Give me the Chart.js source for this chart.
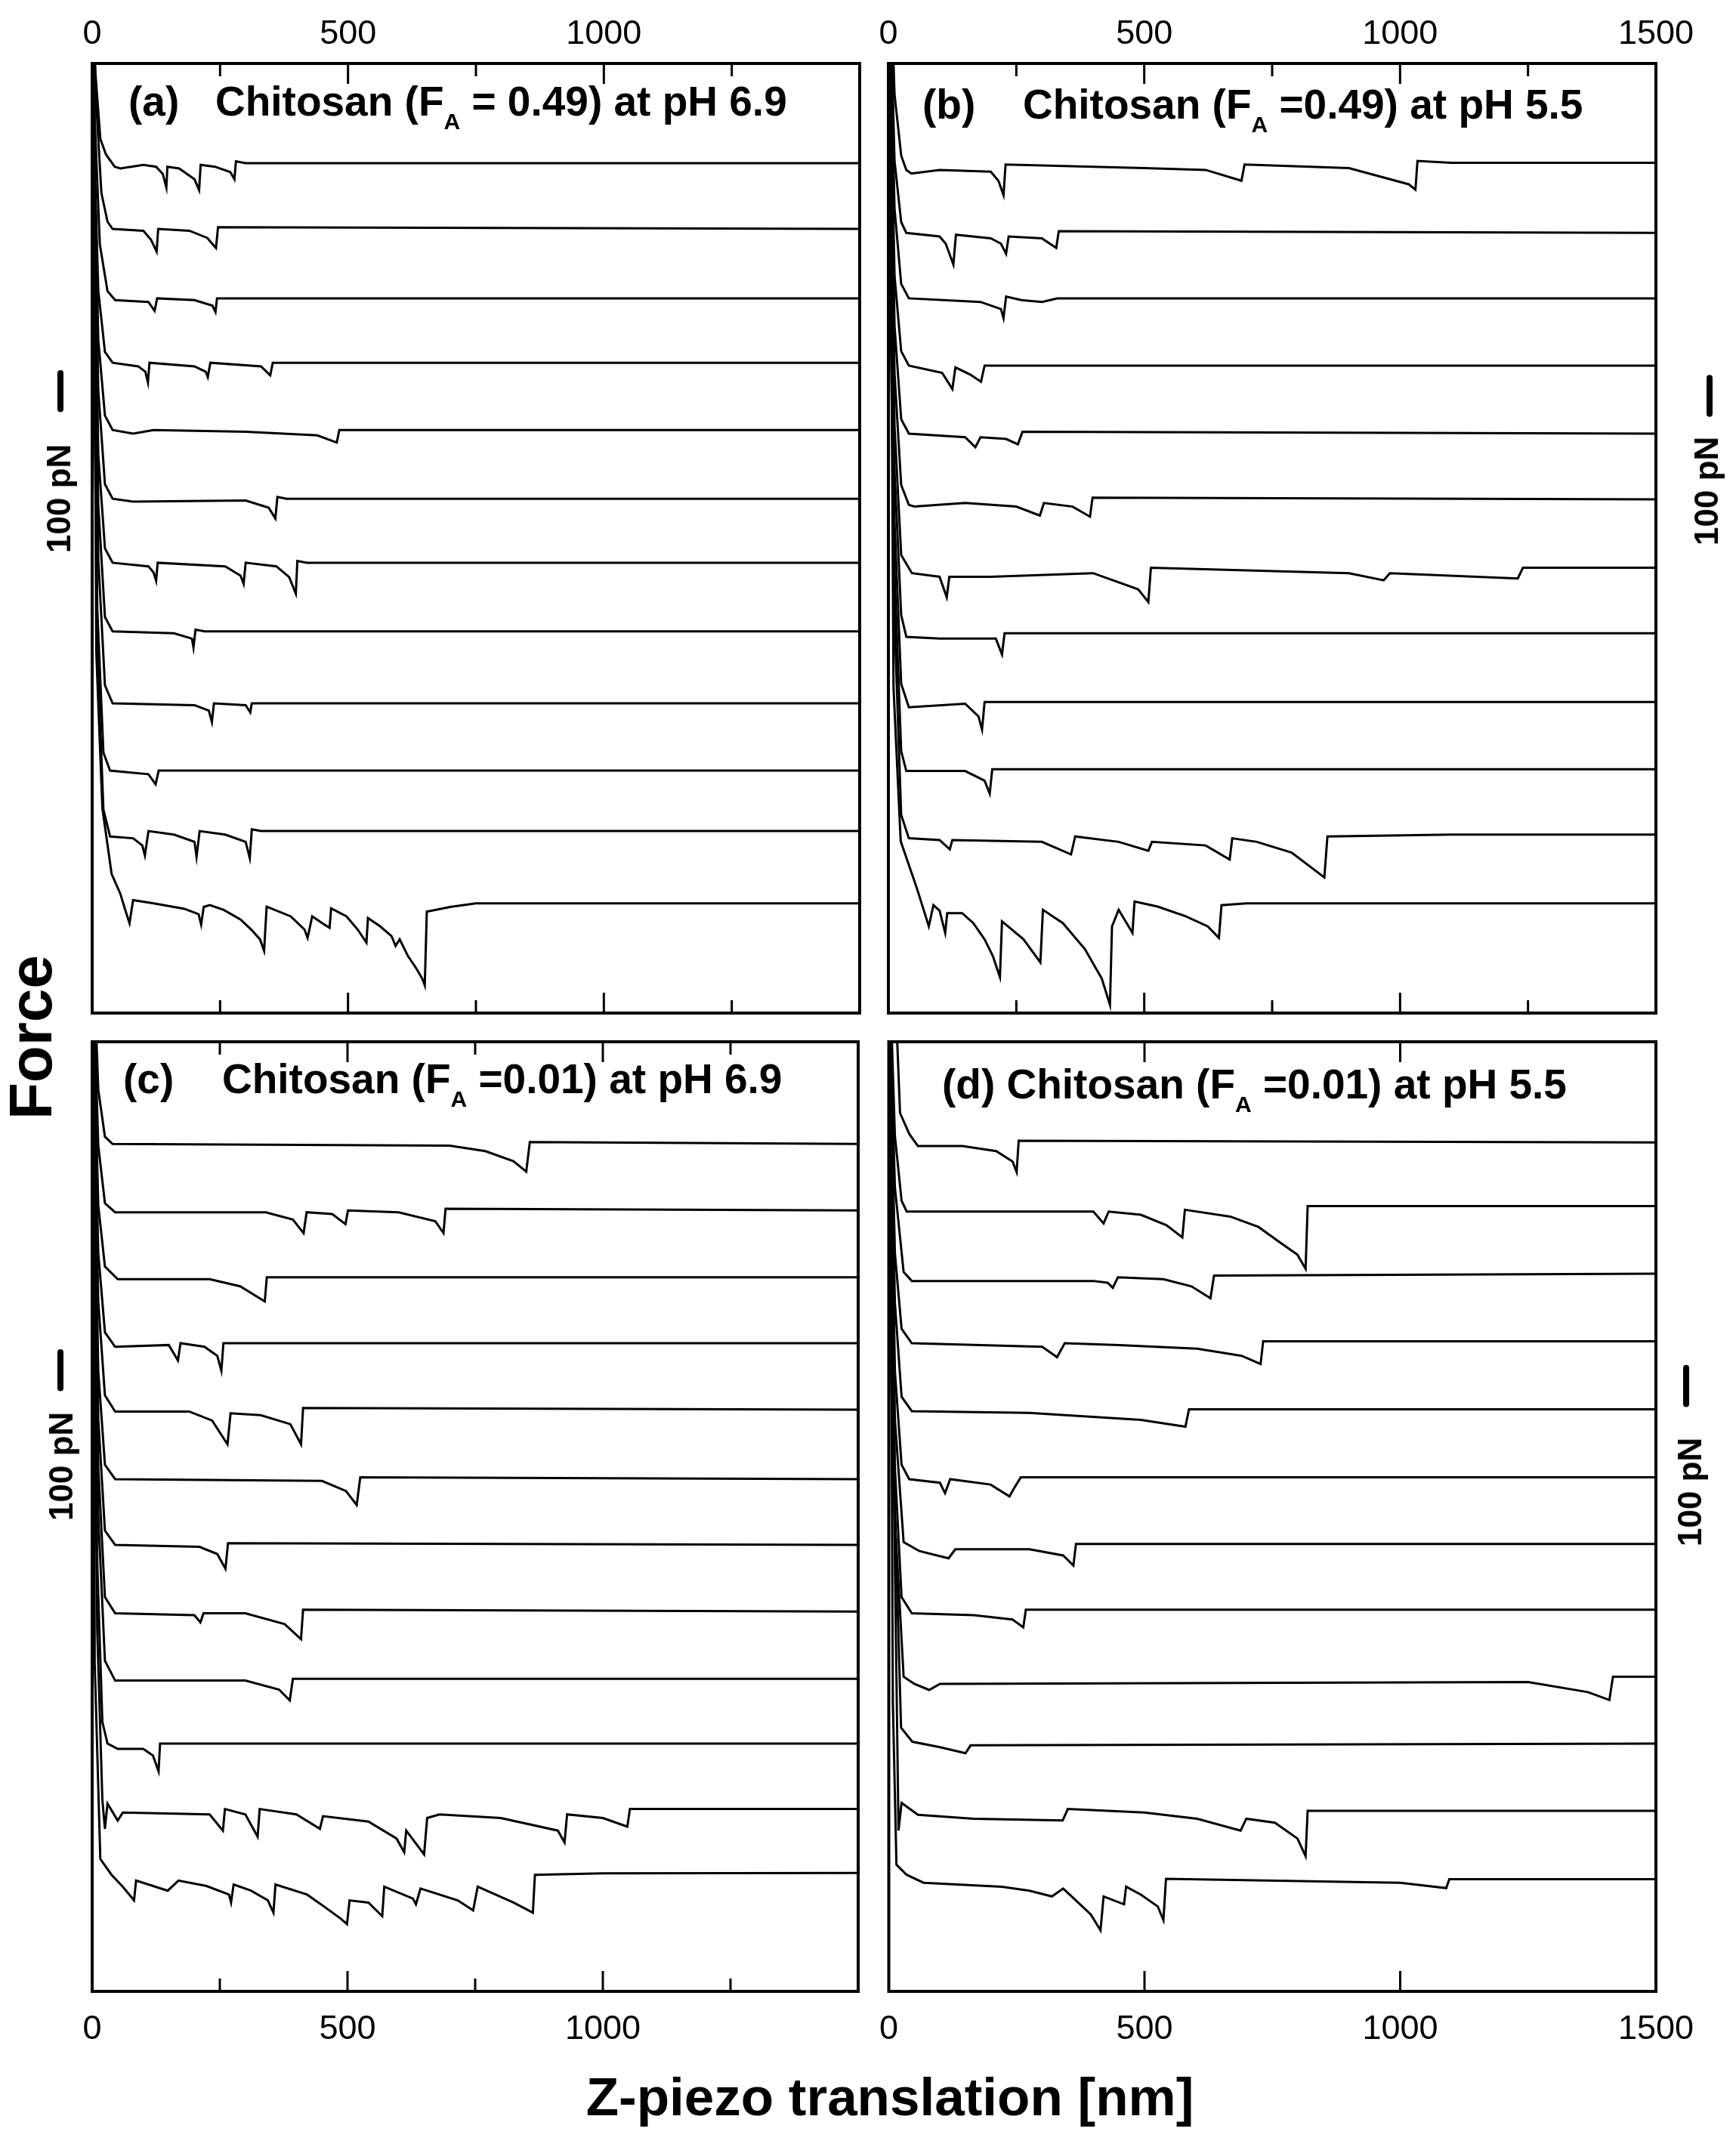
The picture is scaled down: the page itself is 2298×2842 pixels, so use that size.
<!DOCTYPE html>
<html>
<head>
<meta charset="utf-8">
<script src="https://cdn.jsdelivr.net/npm/chart.js@4.4.1/dist/chart.umd.min.js"></script>
<style>
  html,body{margin:0;padding:0;background:#fff;}
  #page{position:relative;width:2298px;height:2842px;overflow:hidden;
        font-family:"Liberation Sans",Arial,sans-serif;color:#000;background:#fff;}
  canvas{position:absolute;}
  .t{position:absolute;white-space:nowrap;font-weight:bold;line-height:1;}
  .title{font-size:55px;}
  .sub{font-size:30px;vertical-align:-18px;}
  .rot{transform:translate(-50%,-50%) rotate(-90deg);}
  .pn{font-size:44px;}
</style>
</head>
<body>
<div id="page">
  <canvas id="cA" width="1160" height="1345" style="left:0;top:0"></canvas>
  <canvas id="cB" width="1158" height="1345" style="left:1140px;top:0"></canvas>
  <canvas id="cC" width="1160" height="1380" style="left:0;top:1345px"></canvas>
  <canvas id="cD" width="1158" height="1380" style="left:1140px;top:1345px"></canvas>

  <div class="t title" style="left:170px;top:107px">(a)</div>
  <div class="t title" style="left:285px;top:107px">Chitosan (F<span class="sub">A</span> = 0.49) at pH 6.9</div>
  <div class="t title" style="left:1221px;top:111px">(b)</div>
  <div class="t title" style="left:1354px;top:111px">Chitosan (F<span class="sub">A</span> =0.49) at pH 5.5</div>
  <div class="t title" style="left:163px;top:1401px">(c)</div>
  <div class="t title" style="left:294px;top:1401px">Chitosan (F<span class="sub">A</span> =0.01) at pH 6.9</div>
  <div class="t title" style="left:1247px;top:1408px">(d) Chitosan (F<span class="sub">A</span> =0.01) at pH 5.5</div>

  <div class="t rot pn" style="left:78px;top:660px">100 pN</div>
  <div class="t rot pn" style="left:2259px;top:650px">100 pN</div>
  <div class="t rot pn" style="left:81px;top:1941px">100 pN</div>
  <div class="t rot pn" style="left:2237px;top:1975px">100 pN</div>

  <div class="t rot" style="left:41px;top:1373px;font-size:80px">Force</div>
  <div class="t" style="left:1178px;top:2740px;font-size:71px;transform:translateX(-50%)">Z-piezo translation [nm]</div>
</div>

<script>
// x axis (nm)
const X_MIN = 0, X_MAX = 1500;
const labelsAC = [0, 500, 1000];
const labelsBD = [0, 500, 1000, 1500];
const majorTicks = [500, 1000];
const minorTicks = [250, 750, 1250];

// y axis (pN), traces are stacked on these baselines
const Y_MAX = 2640;
const basesA = [2363, 2180, 1987, 1808, 1621, 1430, 1252, 1061, 861, 674, 506, 305];
const basesB = [2354, 2169, 1987, 1800, 1611, 1428, 1233, 1056, 865, 678, 491, 305];
const basesC = [2356, 2171, 1985, 1802, 1617, 1424, 1241, 1056, 869, 689, 502, 313];
const basesD = [2360, 2178, 1985, 1802, 1613, 1424, 1239, 1056, 865, 689, 502, 302];

// each trace: [z-piezo nm, force pN relative to its baseline]
const tracesA = [
  [[0,3000],[5,277],[16,67],[27,24],[44,-10],[55,-15],[100,-5],[125,-10],[138,-30],[145,-68],[147,-10],[170,-15],[200,-45],[209,-75],[212,-5],[240,-10],[270,-25],[278,-45],[281,5],[300,0],[1500,0]],
  [[0,3000],[6,400],[18,100],[30,20],[40,0],[100,-5],[115,-30],[126,-63],[129,0],[190,-5],[225,-25],[242,-53],[246,5],[1500,0]],
  [[0,3000],[5,500],[15,150],[30,20],[45,-5],[110,-10],[122,-35],[127,0],[200,-5],[235,-20],[241,-38],[244,0],[1500,0]],
  [[0,3000],[4,600],[12,200],[25,30],[40,0],[90,-10],[104,-25],[109,-55],[112,0],[200,-10],[222,-25],[226,-40],[231,0],[330,-10],[348,-35],[353,0],[1500,0]],
  [[0,3000],[4,800],[12,250],[25,40],[40,0],[80,-10],[120,0],[300,-5],[440,-15],[478,-35],[483,0],[1500,0]],
  [[0,3000],[4,900],[12,300],[25,40],[40,0],[80,-8],[300,-5],[345,-25],[358,-55],[362,5],[380,0],[1500,0]],
  [[0,3000],[4,1000],[12,300],[25,40],[40,0],[110,-10],[120,-27],[125,-50],[128,0],[260,-10],[290,-36],[296,-59],[300,0],[360,-10],[385,-40],[398,-86],[401,5],[420,0],[1500,0]],
  [[0,3000],[4,1100],[12,350],[25,40],[40,0],[160,-5],[195,-20],[198,-45],[202,5],[220,0],[1500,0]],
  [[0,3000],[4,1200],[12,400],[25,50],[40,0],[200,-5],[228,-20],[234,-52],[238,0],[300,-5],[309,-25],[312,0],[1500,0]],
  [[0,3000],[3,1300],[10,450],[22,50],[35,0],[110,-10],[124,-38],[130,0],[1500,0]],
  [[0,3000],[3,1400],[10,500],[22,60],[35,-15],[80,-20],[98,-40],[103,-68],[110,0],[160,-10],[200,-30],[204,-72],[210,0],[260,-10],[300,-30],[308,-75],[312,5],[330,0],[1500,0]],
  [[0,3000],[8,700],[20,264],[38,82],[55,27],[65,-20],[73,-55],[80,9],[120,0],[180,-15],[208,-30],[213,-59],[218,-10],[230,-5],[257,-18],[290,-45],[311,-73],[328,-100],[336,-132],[341,-9],[388,-36],[415,-73],[421,-96],[430,-36],[454,-59],[464,-68],[467,-14],[497,-36],[519,-73],[536,-109],[539,-41],[563,-64],[585,-91],[593,-118],[601,-100],[617,-146],[634,-182],[645,-209],[650,-228],[654,-23],[700,-10],[750,0],[1500,0]]
];
const tracesB = [
  [[0,3000],[3,600],[12,200],[25,30],[35,-10],[45,-20],[100,-10],[200,-15],[215,-40],[225,-80],[229,5],[500,-5],[620,-10],[690,-40],[696,5],[900,-5],[1017,-50],[1030,-65],[1034,15],[1100,10],[1500,10]],
  [[0,3000],[3,700],[12,200],[25,30],[35,0],[100,-10],[112,-30],[127,-88],[132,-5],[200,-15],[220,-30],[230,-58],[235,-10],[300,-15],[328,-42],[333,5],[1500,0]],
  [[0,3000],[3,800],[12,250],[25,40],[40,0],[180,-10],[220,-30],[225,-55],[230,5],[260,-5],[300,-10],[330,0],[1500,0]],
  [[0,3000],[3,900],[12,250],[25,40],[40,0],[105,-20],[125,-65],[131,-5],[160,-25],[181,-45],[188,0],[1500,0]],
  [[0,3000],[3,1000],[12,300],[25,40],[40,0],[150,-10],[170,-38],[180,-10],[230,-15],[253,-30],[262,5],[1500,0]],
  [[0,3000],[3,1100],[12,350],[25,40],[40,-15],[51,-20],[150,-10],[250,-20],[296,-45],[304,-10],[360,-20],[394,-48],[399,5],[1500,0]],
  [[0,3000],[3,1200],[12,400],[25,40],[46,-10],[100,-20],[114,-77],[119,-20],[200,-20],[400,-10],[488,-55],[508,-90],[513,5],[900,-10],[968,-30],[980,-10],[1230,-25],[1240,5],[1500,5]],
  [[0,3000],[3,1300],[12,450],[25,50],[35,-10],[100,-15],[210,-15],[222,-59],[227,0],[1500,0]],
  [[0,3000],[3,1400],[12,500],[25,50],[40,-15],[150,-5],[176,-40],[183,-77],[188,0],[1500,0]],
  [[0,3000],[3,1500],[12,550],[25,50],[35,-5],[150,-5],[188,-32],[198,-68],[203,0],[1500,0]],
  [[0,3000],[3,1600],[12,600],[25,60],[40,-5],[100,-10],[120,-36],[125,-10],[300,-15],[357,-50],[365,0],[450,-15],[508,-40],[515,-15],[620,-25],[667,-64],[672,-5],[720,-15],[788,-45],[852,-114],[858,0],[1100,5],[1500,5]],
  [[0,3000],[10,600],[24,173],[46,82],[57,36],[79,-64],[88,-5],[100,-20],[111,-82],[115,-27],[144,-27],[166,-55],[188,-100],[204,-146],[218,-205],[222,-50],[264,-100],[297,-164],[302,-18],[341,-55],[384,-127],[417,-209],[433,-282],[437,-64],[450,-18],[477,-82],[481,5],[526,-9],[581,-36],[624,-64],[646,-96],[651,-5],[700,0],[1500,0]]
];
const tracesC = [
  [[0,3000],[3,500],[12,150],[25,20],[40,0],[700,-5],[770,-20],[825,-48],[850,-77],[857,5],[1500,0]],
  [[0,3000],[3,600],[12,180],[25,20],[45,-5],[340,-5],[393,-25],[414,-63],[420,-5],[470,-10],[496,-38],[501,0],[600,-5],[672,-30],[688,-63],[692,5],[1500,0]],
  [[0,3000],[3,700],[12,200],[25,30],[50,-5],[230,-5],[290,-25],[338,-67],[342,0],[1500,0]],
  [[0,3000],[3,800],[12,250],[25,30],[45,-10],[150,-5],[168,-48],[173,0],[220,-10],[245,-35],[253,-77],[257,0],[1500,0]],
  [[0,3000],[3,900],[12,300],[25,40],[45,-5],[190,-5],[235,-30],[265,-96],[271,-10],[330,-15],[388,-40],[409,-96],[413,5],[1500,0]],
  [[0,3000],[3,1000],[12,300],[25,40],[45,0],[450,-5],[497,-33],[518,-72],[525,5],[1500,0]],
  [[0,3000],[3,1100],[12,350],[25,40],[45,0],[210,-5],[245,-25],[261,-66],[266,5],[1500,0]],
  [[0,3000],[3,1200],[12,400],[25,40],[45,-5],[200,-10],[212,-30],[218,-5],[300,-5],[377,-35],[409,-77],[413,5],[1500,0]],
  [[0,3000],[3,1300],[12,450],[25,50],[45,-5],[300,-5],[366,-30],[387,-60],[393,0],[1500,0]],
  [[0,3000],[3,1400],[10,500],[20,60],[30,0],[50,-15],[100,-15],[119,-33],[130,-77],[133,0],[1500,0]],
  [[0,3000],[3,1500],[10,500],[20,30],[25,-50],[30,20],[50,-27],[60,-5],[230,-10],[256,-55],[260,5],[300,-10],[324,-72],[328,5],[400,-10],[446,-50],[452,-15],[541,-30],[596,-77],[611,-115],[615,-55],[650,-121],[656,-20],[680,-10],[800,-20],[912,-55],[925,-88],[930,-10],[1000,-20],[1048,-44],[1053,5],[1500,5]],
  [[0,3000],[5,600],[16,55],[38,11],[60,-22],[82,-60],[86,-5],[148,-33],[169,-5],[224,-20],[268,-44],[272,-66],[277,-16],[311,-33],[344,-60],[355,-94],[359,-16],[421,-44],[454,-77],[486,-110],[499,-126],[504,-60],[541,-66],[568,-104],[572,-22],[628,-55],[634,-71],[643,-27],[716,-60],[746,-88],[755,-22],[825,-66],[863,-94],[867,11],[1000,15],[1500,16]]
];
const tracesD = [
  [[0,3000],[5,700],[22,82],[40,24],[57,-10],[144,-10],[210,-24],[242,-53],[250,-82],[254,5],[1500,0]],
  [[0,3000],[3,600],[12,200],[25,20],[35,-10],[400,-10],[420,-43],[430,-10],[493,-19],[543,-48],[574,-82],[579,-5],[668,-24],[723,-53],[761,-92],[799,-130],[815,-169],[819,5],[1500,5]],
  [[0,3000],[3,700],[12,250],[29,15],[45,-10],[400,-10],[428,-15],[438,-29],[448,0],[537,-5],[592,-25],[629,-58],[636,5],[1500,10]],
  [[0,3000],[3,800],[12,250],[25,40],[45,0],[300,-10],[329,-39],[344,0],[450,-5],[603,-15],[690,-35],[727,-58],[732,5],[1500,5]],
  [[0,3000],[3,900],[12,300],[25,40],[45,0],[275,-5],[493,-24],[580,-43],[587,5],[1500,5]],
  [[0,3000],[3,1000],[12,300],[25,40],[40,0],[100,-10],[110,-39],[120,0],[199,-15],[236,-48],[245,-25],[258,5],[1500,5]],
  [[0,3000],[3,1100],[12,350],[29,10],[60,-15],[117,-35],[130,-10],[275,-10],[341,-27],[361,-55],[366,5],[1500,5]],
  [[0,3000],[3,1200],[12,400],[25,40],[45,-5],[166,-10],[242,-22],[263,-44],[268,5],[1500,5]],
  [[0,3000],[3,1300],[12,450],[29,10],[50,-10],[79,-27],[100,-10],[1250,-5],[1367,-33],[1409,-55],[1416,10],[1500,10]],
  [[0,3000],[5,1000],[24,44],[46,5],[100,-10],[150,-27],[160,-5],[1500,0]],
  [[0,3000],[10,900],[19,-55],[25,22],[57,-11],[166,-22],[340,-27],[350,5],[500,-5],[603,-22],[688,-55],[699,-22],[755,-33],[799,-77],[815,-126],[819,0],[1500,0]],
  [[0,3000],[8,500],[15,50],[35,22],[68,0],[221,-11],[275,-22],[319,-38],[341,-16],[362,-44],[395,-88],[414,-132],[420,-38],[460,-60],[464,-11],[493,-33],[526,-66],[537,-104],[542,11],[1000,0],[1090,-15],[1096,10],[1500,10]]
];

Chart.defaults.font.family = '"Liberation Sans", Arial, sans-serif';
Chart.defaults.color = '#000';

// box, inward ticks and the 100 pN bar
const framePlugin = {
  id: 'frame',
  afterDraw(chart, args, o){
    const {ctx, chartArea:a, scales:{x, y}} = chart;
    ctx.save();
    ctx.strokeStyle = '#000';
    ctx.lineWidth = 3;
    const tick = (v, len)=>{
      const px = x.getPixelForValue(v);
      ctx.beginPath();
      ctx.moveTo(px, a.top); ctx.lineTo(px, a.top + len);
      ctx.moveTo(px, a.bottom); ctx.lineTo(px, a.bottom - len);
      ctx.stroke();
    };
    o.major.forEach(v=>tick(v, 27));
    o.minor.forEach(v=>tick(v, 17));
    ctx.lineWidth = 4;
    ctx.strokeRect(a.left, a.top, a.right - a.left, a.bottom - a.top);
    // scale bar = 100 pN on the y scale
    const bx = (o.barSide === 'left' ? a.left : a.right) + o.barDx;
    ctx.lineWidth = 8;
    ctx.lineCap = 'round';
    ctx.beginPath();
    ctx.moveTo(bx, y.getPixelForValue(o.barFrom));
    ctx.lineTo(bx, y.getPixelForValue(o.barFrom + 100));
    ctx.stroke();
    ctx.restore();
  }
};

function makePanel(id, traces, bases, cfg){
  const datasets = traces.map((tr, i)=>({
    data: tr.map(([nm, f])=>({x: nm, y: bases[i] + f})),
    borderColor: '#000',
    borderWidth: 3,
    borderJoinStyle: 'miter',
    pointRadius: 0,
    fill: false,
    tension: 0,
    clip: 2
  }));
  const top = cfg.axis === 'top';
  return new Chart(document.getElementById(id), {
    type: 'line',
    data: { datasets },
    plugins: [framePlugin],
    options: {
      responsive: false,
      animation: false,
      layout: { padding: { left: cfg.padL, right: cfg.padR, top: top ? 0 : cfg.padV, bottom: top ? cfg.padV : 0 } },
      plugins: {
        legend: { display: false },
        tooltip: { enabled: false },
        frame: { major: majorTicks, minor: cfg.minor, barSide: cfg.barSide, barDx: cfg.barDx, barFrom: cfg.barFrom }
      },
      scales: {
        x: {
          type: 'linear', position: cfg.axis, min: X_MIN, max: X_MAX,
          grid: { display: false, drawTicks: false },
          border: { display: false },
          ticks: {
            stepSize: 250, autoSkip: false, maxRotation: 0,
            padding: top ? 11 : 24,
            font: { size: 45 },
            callback: v => cfg.labels.includes(v) ? String(v) : ''
          },
          afterFit: s => { s.height = cfg.axisH; }
        },
        y: { display: false, min: 0, max: Y_MAX }
      }
    }
  });
}

makePanel('cA', tracesA, basesA, {axis:'top', axisH:84, padV:4, padL:122, padR:22,
  labels: labelsAC, minor: minorTicks, barSide:'left', barDx:-42, barFrom:1679});
makePanel('cB', tracesB, basesB, {axis:'top', axisH:84, padV:4, padL:36, padR:106,
  labels: labelsBD, minor: minorTicks, barSide:'right', barDx:71, barFrom:1666});
makePanel('cC', tracesC, basesC, {axis:'bottom', axisH:89, padV:34, padL:122, padR:22,
  labels: labelsAC, minor: minorTicks, barSide:'left', barDx:-42, barFrom:1677});
makePanel('cD', tracesD, basesD, {axis:'bottom', axisH:89, padV:34, padL:36, padR:106,
  labels: labelsBD, minor: [], barSide:'right', barDx:40, barFrom:1633});
</script>
</body>
</html>
